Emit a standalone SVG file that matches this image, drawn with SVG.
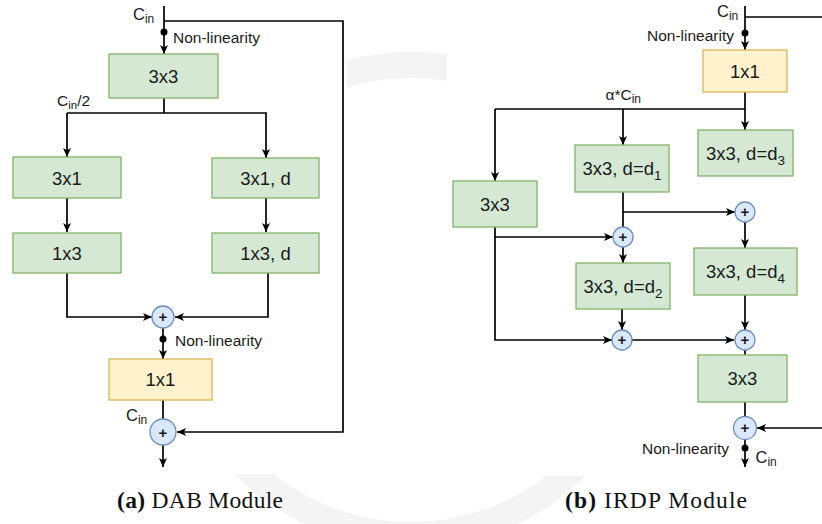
<svg xmlns="http://www.w3.org/2000/svg" width="822" height="524" viewBox="0 0 822 524">
  <defs>
    <marker id="arrow" markerUnits="userSpaceOnUse" markerWidth="10" markerHeight="8" refX="9" refY="4" orient="auto">
      <path d="M0,0 L9,4 L0,8 L2.2,4 Z" fill="#000"/>
    </marker>
    <style>
      .conv { fill: #d5e8d4; stroke: #82b366; stroke-width: 1.3; }
      .pw { fill: #fff2cc; stroke: #d6b656; stroke-width: 1.3; }
      .sum { fill: #dae8fc; stroke: #6c8ebf; stroke-width: 1.3; }
      .lbl { font-family: "Liberation Sans", Arial, sans-serif; font-size: 18.5px; fill: #1a1a1a; text-anchor: middle; }
      .note { font-family: "Liberation Sans", Arial, sans-serif; font-size: 15.5px; fill: #1a1a1a; }
      .ch { font-family: "Liberation Sans", Arial, sans-serif; font-size: 16.5px; fill: #1a1a1a; }
      .plus { font-family: "Liberation Sans", Arial, sans-serif; font-size: 15px; font-weight: bold; fill: #1a1a1a; text-anchor: middle; }
      .cap { font-family: "Liberation Serif", "Times New Roman", serif; font-size: 23.5px; fill: #111; }
      .edge { fill: none; stroke: #000; stroke-width: 1.7; }
      .arr { marker-end: url(#arrow); }
      .wm { fill: none; stroke: #f4f4f4; }
    </style>
  </defs>

  <!-- page background with faint seal watermark -->
  <rect x="0" y="0" width="822" height="524" fill="#ffffff"/>
  <g id="watermark">
    <circle class="wm" cx="411" cy="300" r="235" stroke-width="26"/>
  </g>
  <rect x="0" y="0" width="347" height="474" fill="#ffffff"/>
  <rect x="447" y="0" width="375" height="476" fill="#ffffff"/>

  <!-- connectors -->
  <g id="connectors">
    <!-- (a) DAB module -->
    <path class="edge arr" d="M164,6 V54"/>
    <path class="edge arr" d="M164,21 H343 V432 H177"/>
    <path class="edge" d="M164,98 V113 M67,113 H267"/>
    <path class="edge arr" d="M67,113 V157"/>
    <path class="edge arr" d="M266,113 V158"/>
    <path class="edge arr" d="M67,198 V232"/>
    <path class="edge arr" d="M266,198 V232"/>
    <path class="edge arr" d="M67,273 V317 H152"/>
    <path class="edge arr" d="M268,273 V317 H175"/>
    <path class="edge arr" d="M163,328 V359"/>
    <path class="edge" d="M163,400 V419"/>
    <path class="edge arr" d="M163,445 V467"/>
    <circle cx="164" cy="32" r="3.5" fill="#000"/>
    <circle cx="163" cy="339" r="3.5" fill="#000"/>

    <!-- (b) IRDP module -->
    <path class="edge arr" d="M745,6 V50"/>
    <path class="edge" d="M745,17 H822"/>
    <path class="edge" d="M745,92 V109 M495,109 H745"/>
    <path class="edge arr" d="M745,109 V130"/>
    <path class="edge arr" d="M623,109 V145"/>
    <path class="edge arr" d="M495,109 V181"/>
    <path class="edge" d="M623,192 V227"/>
    <path class="edge arr" d="M623,212 H735"/>
    <path class="edge arr" d="M495,227 V237 H613"/>
    <path class="edge arr" d="M495,237 V340 H612"/>
    <path class="edge arr" d="M623,247 V263"/>
    <path class="edge arr" d="M622,309 V330"/>
    <path class="edge arr" d="M632,340 H734"/>
    <path class="edge arr" d="M745,222 V248"/>
    <path class="edge arr" d="M745,295 V330"/>
    <path class="edge" d="M745,350 V355"/>
    <path class="edge" d="M745,402 V417"/>
    <path class="edge arr" d="M822,428 H757"/>
    <path class="edge arr" d="M745,439 V467"/>
    <circle cx="745" cy="33" r="3.5" fill="#000"/>
    <circle cx="745" cy="448" r="3.5" fill="#000"/>
  </g>

  <!-- (a) DAB module nodes -->
  <g id="dab-in3x3"><rect class="conv" x="109" y="54" width="109" height="44"/><text class="lbl" x="163.5" y="83">3x3</text></g>
  <g id="dab-3x1"><rect class="conv" x="13" y="157" width="108" height="41"/><text class="lbl" x="67" y="184.5">3x1</text></g>
  <g id="dab-3x1d"><rect class="conv" x="212" y="158" width="107" height="40"/><text class="lbl" x="265.5" y="185">3x1, d</text></g>
  <g id="dab-1x3"><rect class="conv" x="13" y="233" width="108" height="40"/><text class="lbl" x="67" y="260">1x3</text></g>
  <g id="dab-1x3d"><rect class="conv" x="212" y="233" width="107" height="40"/><text class="lbl" x="265.5" y="260">1x3, d</text></g>
  <g id="dab-sum1"><circle class="sum" cx="163" cy="317" r="11"/><text class="plus" x="163" y="322">+</text></g>
  <g id="dab-1x1"><rect class="pw" x="109" y="359" width="103" height="41"/><text class="lbl" x="160.5" y="386">1x1</text></g>
  <g id="dab-sum2"><circle class="sum" cx="163" cy="432" r="13"/><text class="plus" x="163" y="437.5">+</text></g>

  <!-- (b) IRDP module nodes -->
  <g id="irdp-1x1"><rect class="pw" x="703" y="50" width="84" height="42"/><text class="lbl" x="745" y="78">1x1</text></g>
  <g id="irdp-d3"><rect class="conv" x="698" y="130" width="95" height="46"/><text class="lbl" x="745.5" y="160">3x3, d=d<tspan font-size="13.5" dy="5">3</tspan></text></g>
  <g id="irdp-d1"><rect class="conv" x="575" y="145" width="94" height="47"/><text class="lbl" x="622" y="175">3x3, d=d<tspan font-size="13.5" dy="5">1</tspan></text></g>
  <g id="irdp-3x3a"><rect class="conv" x="453" y="181" width="84" height="46"/><text class="lbl" x="495" y="211">3x3</text></g>
  <g id="irdp-sum3"><circle class="sum" cx="745" cy="212" r="10"/><text class="plus" x="745" y="217">+</text></g>
  <g id="irdp-sum1"><circle class="sum" cx="623" cy="237" r="10"/><text class="plus" x="623" y="242">+</text></g>
  <g id="irdp-d2"><rect class="conv" x="576" y="263" width="94" height="46"/><text class="lbl" x="623" y="293">3x3, d=d<tspan font-size="13.5" dy="5">2</tspan></text></g>
  <g id="irdp-d4"><rect class="conv" x="694" y="248" width="103" height="47"/><text class="lbl" x="745.5" y="278">3x3, d=d<tspan font-size="13.5" dy="5">4</tspan></text></g>
  <g id="irdp-sum2"><circle class="sum" cx="622" cy="340" r="10"/><text class="plus" x="622" y="345">+</text></g>
  <g id="irdp-sum4"><circle class="sum" cx="745" cy="340" r="10"/><text class="plus" x="745" y="345">+</text></g>
  <g id="irdp-3x3b"><rect class="conv" x="698" y="355" width="89" height="47"/><text class="lbl" x="742.5" y="385">3x3</text></g>
  <g id="irdp-sum5"><circle class="sum" cx="745" cy="428" r="11.5"/><text class="plus" x="745" y="433">+</text></g>

  <!-- edge labels -->
  <g id="labels">
    <text class="ch" x="133" y="20">C<tspan font-size="12" dy="3">in</tspan></text>
    <text class="note" x="173" y="43">Non-linearity</text>
    <text class="note" x="57" y="106">C<tspan font-size="11.5" dy="3">in</tspan><tspan dy="-3">/2</tspan></text>
    <text class="note" x="175" y="346">Non-linearity</text>
    <text class="ch" x="126" y="421">C<tspan font-size="12" dy="3">in</tspan></text>

    <text class="ch" x="717" y="17">C<tspan font-size="12" dy="3">in</tspan></text>
    <text class="note" x="734" y="40.5" text-anchor="end">Non-linearity</text>
    <text class="note" x="605.5" y="100">α*C<tspan font-size="12" dy="3">in</tspan></text>
    <text class="note" x="729" y="454" text-anchor="end">Non-linearity</text>
    <text class="ch" x="755.5" y="463">C<tspan font-size="12" dy="3">in</tspan></text>
  </g>

  <!-- captions -->
  <text class="cap" x="117" y="508" textLength="166" lengthAdjust="spacing"><tspan font-weight="bold">(a)</tspan> DAB Module</text>
  <text class="cap" x="565" y="508" textLength="182" lengthAdjust="spacing"><tspan font-weight="bold">(b)</tspan> IRDP Module</text>
</svg>
